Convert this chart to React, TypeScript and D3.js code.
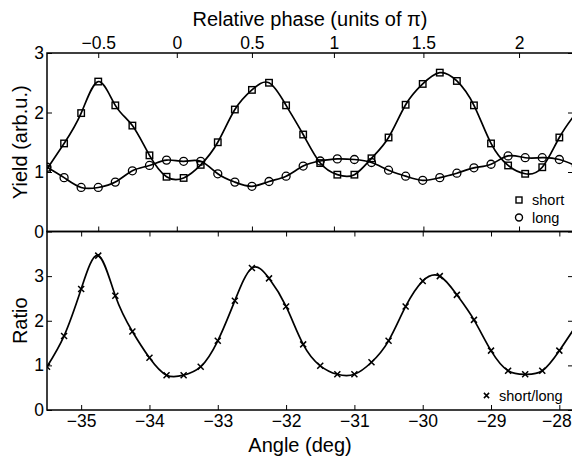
import * as d3 from 'd3';
import { useEffect, useRef } from 'react';

// angle of each measurement (deg)
const angles = [
  -35.5, -35.25, -35, -34.75, -34.5, -34.25, -34, -33.75, -33.5, -33.25, -33,
  -32.75, -32.5, -32.25, -32, -31.75, -31.5, -31.25, -31, -30.75, -30.5,
  -30.25, -30, -29.75, -29.5, -29.25, -29, -28.75, -28.5, -28.25, -28, -27.75,
];

const shortYield = [
  1.05, 1.48, 1.99, 2.52, 2.12, 1.78, 1.28, 0.92, 0.9, 1.12, 1.5,
  2.05, 2.38, 2.5, 2.12, 1.63, 1.15, 0.955, 0.955, 1.23, 1.58,
  2.13, 2.48, 2.67, 2.53, 2.12, 1.48, 1.11, 0.97, 1.08, 1.58, 2.0,
];

const longYield = [
  1.08, 0.905, 0.74, 0.74, 0.83, 1.02, 1.11, 1.2, 1.18, 1.18, 0.97,
  0.83, 0.76, 0.84, 0.93, 1.1, 1.185, 1.22, 1.21, 1.16, 1.03,
  0.93, 0.86, 0.905, 0.98, 1.07, 1.13, 1.27, 1.24, 1.24, 1.21, 1.1,
];

const ratio = [
  0.97, 1.66, 2.71, 3.46, 2.56, 1.76, 1.17, 0.78, 0.78, 0.97, 1.55,
  2.45, 3.18, 2.95, 2.32, 1.47, 0.99, 0.8, 0.8, 1.07, 1.55,
  2.32, 2.89, 3.0, 2.58, 2.02, 1.33, 0.88, 0.8, 0.88, 1.33, 1.9,
];

// top axis: relative phase ticks, placed at the angle they correspond to
const phaseTickAngles = [-34.75, -33.6, -32.5, -31.3, -29.99, -28.59];
const phaseTickLabels = ['\u22120.5', '0', '0.5', '1', '1.5', '2'];

const angleTicks = [-35, -34, -33, -32, -31, -30, -29, -28];
const yieldTicks = [0, 1, 2, 3];
const ratioTicks = [0, 1, 2, 3];

const W = 572;
const H = 458;
const FONT = '"Liberation Sans", Arial, Helvetica, sans-serif';

const App = () => {
  const ref = useRef<SVGSVGElement | null>(null);

  useEffect(() => {
    const svg = d3.select(ref.current);
    svg.selectAll('*').remove();

    const left = 47;
    const right = 573;
    const top = 53;
    const mid = 231.5;
    const bottom = 410;

    const x = d3.scaleLinear().domain([-35.5, -27.8]).range([left, right]);
    const yTop = d3.scaleLinear().domain([0, 3]).range([mid, top]);
    const yBot = d3.scaleLinear().domain([0, 4]).range([bottom, mid]);

    svg.append('rect').attr('width', W).attr('height', H).attr('fill', 'white');

    const defs = svg.append('defs');
    defs.append('clipPath').attr('id', 'clipTop')
      .append('rect').attr('x', left).attr('y', top).attr('width', right - left).attr('height', mid - top);
    defs.append('clipPath').attr('id', 'clipBot')
      .append('rect').attr('x', left).attr('y', mid).attr('width', right - left).attr('height', bottom - mid);

    const styleAxis = (g) => {
      g.select('.domain').remove();
      g.selectAll('line').attr('stroke', '#000').attr('stroke-width', 1);
      g.selectAll('text').attr('fill', '#000').style('font-family', FONT).style('font-size', '17.5px');
    };

    // top panel axes
    svg.append('g').attr('transform', `translate(0,${top})`)
      .call(d3.axisTop(x).tickValues(phaseTickAngles).tickFormat((d, i) => phaseTickLabels[i])
        .tickSizeInner(-5).tickSizeOuter(0).tickPadding(4))
      .call(styleAxis);
    svg.append('g').attr('transform', `translate(0,${mid})`)
      .call(d3.axisBottom(x).tickValues(phaseTickAngles).tickFormat('').tickSizeInner(-5).tickSizeOuter(0))
      .call(styleAxis);
    svg.append('g').attr('transform', `translate(${left},0)`)
      .call(d3.axisLeft(yTop).tickValues(yieldTicks).tickFormat(d3.format('d')).tickSizeInner(-5).tickSizeOuter(0).tickPadding(3))
      .call(styleAxis);
    svg.append('g').attr('transform', `translate(${right},0)`)
      .call(d3.axisRight(yTop).tickValues(yieldTicks).tickFormat('').tickSizeInner(-5).tickSizeOuter(0))
      .call(styleAxis);

    // bottom panel axes
    svg.append('g').attr('transform', `translate(0,${mid})`)
      .call(d3.axisTop(x).tickValues(angleTicks).tickFormat('').tickSizeInner(-5).tickSizeOuter(0))
      .call(styleAxis);
    const xAxisBot = svg.append('g').attr('transform', `translate(0,${bottom})`)
      .call(d3.axisBottom(x).tickValues(angleTicks).tickFormat(d3.format('d')).tickSizeInner(-5).tickSizeOuter(0).tickPadding(5))
      .call(styleAxis);
    // last label sits at the figure edge; nudge it inside like the original
    xAxisBot.selectAll('text').filter((d) => d === -28).attr('dx', -3);
    svg.append('g').attr('transform', `translate(${left},0)`)
      .call(d3.axisLeft(yBot).tickValues(ratioTicks).tickFormat(d3.format('d')).tickSizeInner(-5).tickSizeOuter(0).tickPadding(3))
      .call(styleAxis);
    svg.append('g').attr('transform', `translate(${right},0)`)
      .call(d3.axisRight(yBot).tickValues(ratioTicks).tickFormat('').tickSizeInner(-5).tickSizeOuter(0))
      .call(styleAxis);

    // frames
    [[top, mid], [mid, bottom]].forEach(([y0, y1]) => {
      svg.append('rect')
        .attr('x', left).attr('y', y0)
        .attr('width', right - left).attr('height', y1 - y0)
        .attr('fill', 'none').attr('stroke', '#000').attr('stroke-width', 1.5);
    });

    // curves
    const pts = (vals) => angles.map((a, i) => [a, vals[i]]);
    const lineTop = d3.line().x((d) => x(d[0])).y((d) => yTop(d[1])).curve(d3.curveNatural);
    const lineBot = d3.line().x((d) => x(d[0])).y((d) => yBot(d[1])).curve(d3.curveNatural);

    const gTop = svg.append('g').attr('clip-path', 'url(#clipTop)');
    const gBot = svg.append('g').attr('clip-path', 'url(#clipBot)');

    [shortYield, longYield].forEach((vals) => {
      gTop.append('path').attr('d', lineTop(pts(vals)))
        .attr('fill', 'none').attr('stroke', '#000').attr('stroke-width', 1.7);
    });
    gBot.append('path').attr('d', lineBot(pts(ratio)))
      .attr('fill', 'none').attr('stroke', '#000').attr('stroke-width', 1.7);

    // markers
    const sq = 6.5;
    gTop.selectAll('.sq').data(pts(shortYield)).enter().append('rect')
      .attr('x', (d) => x(d[0]) - sq / 2).attr('y', (d) => yTop(d[1]) - sq / 2)
      .attr('width', sq).attr('height', sq)
      .attr('fill', 'none').attr('stroke', '#000').attr('stroke-width', 1.4);
    gTop.selectAll('.ci').data(pts(longYield)).enter().append('circle')
      .attr('cx', (d) => x(d[0])).attr('cy', (d) => yTop(d[1])).attr('r', 4)
      .attr('fill', 'none').attr('stroke', '#000').attr('stroke-width', 1.3);
    const cross = (g, cx, cy, s) => {
      g.append('path')
        .attr('d', `M${cx - s},${cy - s}L${cx + s},${cy + s}M${cx - s},${cy + s}L${cx + s},${cy - s}`)
        .attr('stroke', '#000').attr('stroke-width', 1.5).attr('fill', 'none');
    };
    pts(ratio).forEach((d) => cross(gBot, x(d[0]), yBot(d[1]), 3));

    // legends
    const legTxt = (tx, ty, t) => svg.append('text').attr('x', tx).attr('y', ty)
      .style('font-family', FONT).style('font-size', '14.5px').text(t);
    svg.append('rect').attr('x', 516).attr('y', 197).attr('width', 6).attr('height', 6)
      .attr('fill', 'none').attr('stroke', '#000').attr('stroke-width', 1.4);
    legTxt(532, 205, 'short');
    svg.append('circle').attr('cx', 519).attr('cy', 217.5).attr('r', 3.5)
      .attr('fill', 'none').attr('stroke', '#000').attr('stroke-width', 1.4);
    legTxt(532, 222.5, 'long');
    cross(svg, 486.5, 395.5, 2.6);
    legTxt(499, 401, 'short/long');

    // axis titles
    const title = (t) => svg.append('text').style('font-family', FONT).style('font-size', '20px')
      .attr('text-anchor', 'middle').text(t);
    title('Relative phase (units of \u03c0)').attr('x', 310).attr('y', 26);
    title('Angle (deg)').attr('x', 300).attr('y', 452);
    title('Yield (arb.u.)').attr('transform', `translate(27,${(top + mid) / 2}) rotate(-90)`);
    title('Ratio').attr('transform', `translate(27,${(mid + bottom) / 2}) rotate(-90)`);
  }, []);

  return (
    <div style={{ position: 'absolute', left: 0, top: 0 }}>
      <svg ref={ref} width={W} height={H} style={{ display: 'block' }} />
    </div>
  );
};

export default App;
